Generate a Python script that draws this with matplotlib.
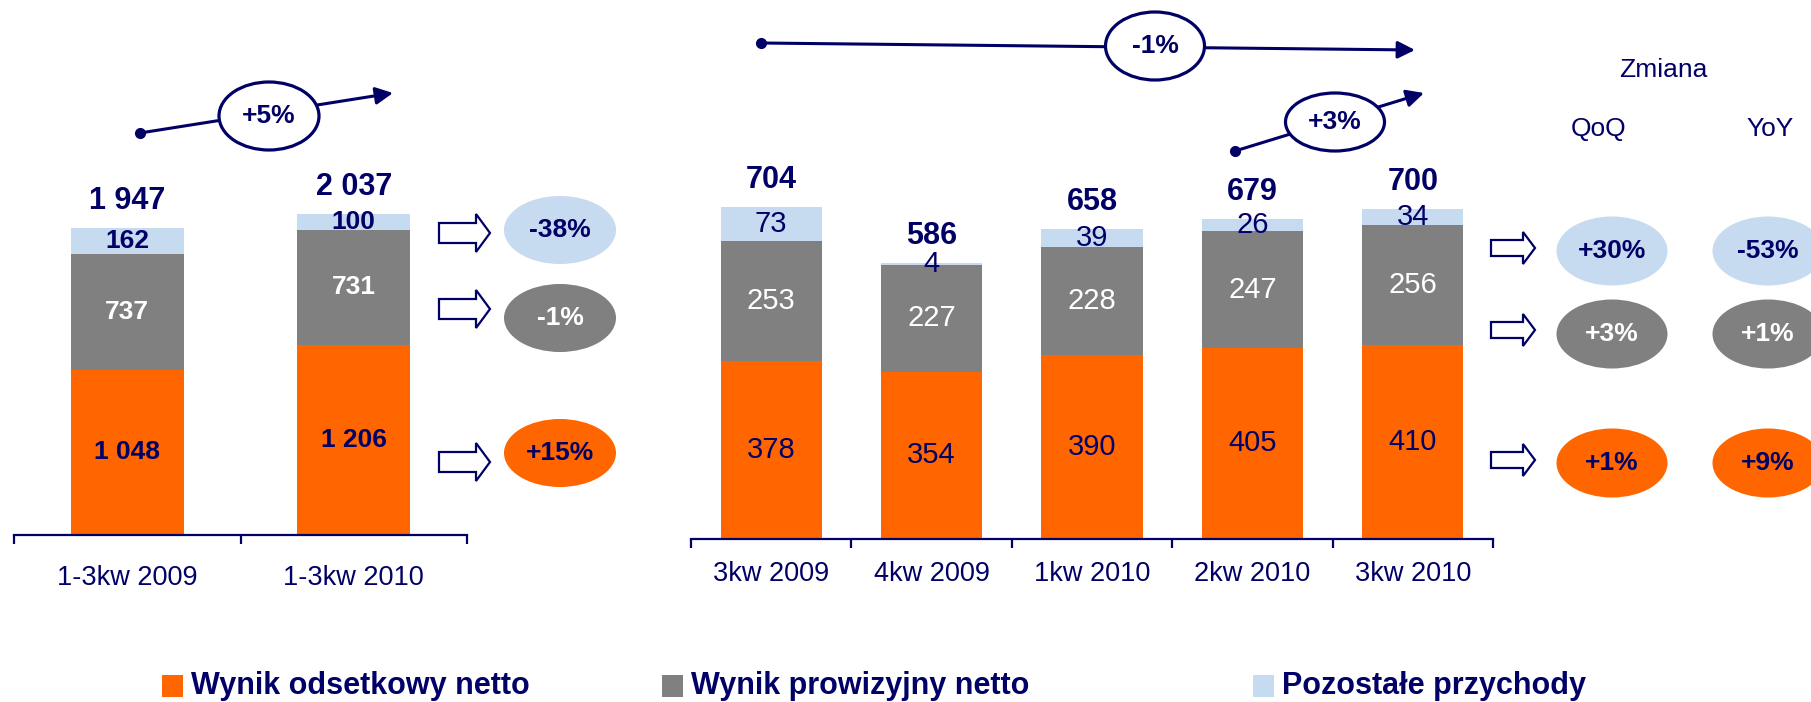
import numpy as np
import matplotlib.pyplot as plt
from matplotlib.patches import Ellipse, FancyArrow, Rectangle

W, H = 1811, 702
NAVY = '#000066'
ORANGE = '#FF6600'
GRAY = '#808080'
LIGHT = '#C6DAF0'

plt.rcParams['font.family'] = ['Liberation Sans', 'DejaVu Sans']

# dane - narastajaco
ytd_labels = ['1-3kw 2009', '1-3kw 2010']
ytd_interest = [1048, 1206]
ytd_fees = [737, 731]
ytd_other = [162, 100]
ytd_total = [1947, 2037]

# dane - kwartalne
q_labels = ['3kw 2009', '4kw 2009', '1kw 2010', '2kw 2010', '3kw 2010']
q_interest = [378, 354, 390, 405, 410]
q_fees = [253, 227, 228, 247, 256]
q_other = [73, 4, 39, 26, 34]
q_total = [704, 586, 658, 679, 700]

# zmiany (pozostale, prowizyjny, odsetkowy)
ytd_change = ['-38%', '-1%', '+15%']
qoq_change = ['+30%', '+3%', '+1%']
yoy_change = ['-53%', '+1%', '+9%']
trend_labels = ['+5%', '-1%', '+3%']
legend_labels = ['Wynik odsetkowy netto', 'Wynik prowizyjny netto', 'Pozostałe przychody']

colors = [ORANGE, GRAY, LIGHT]
text_colors = [NAVY, 'white', NAVY]


def fmt(v):
    return f"{v:,}".replace(',', ' ')


def px_rect(left, right, baseline, top):
    return [left / W, (H - baseline) / H, (right - left) / W, (baseline - top) / H]


def panel(rect, ymax, labels, segs, totals, width, inner_size, inner_weight, pad):
    ax = fig.add_axes(rect)
    x = np.arange(len(labels))
    bottom = np.zeros(len(labels))
    for vals, col, tc in zip(segs, colors, text_colors):
        vals = np.array(vals)
        ax.bar(x, vals, width, bottom=bottom, color=col, zorder=2)
        for xi, b, v in zip(x, bottom, vals):
            ax.text(xi, b + v / 2, fmt(v), ha='center', va='center', color=tc,
                    fontsize=inner_size, fontweight=inner_weight, zorder=3)
        bottom += vals
    for xi, top, t in zip(x, bottom, totals):
        ax.annotate(fmt(t), (xi, top), xytext=(0, 19.5), textcoords='offset points',
                    ha='center', va='center', fontsize=22, fontweight='bold', color=NAVY)
    ax.set_xlim(-0.5, len(labels) - 0.5)
    ax.set_ylim(0, ymax)
    for s in ['top', 'right', 'left']:
        ax.spines[s].set_visible(False)
    ax.spines['bottom'].set_color(NAVY)
    ax.spines['bottom'].set_linewidth(1.6)
    ax.set_yticks([])
    ax.set_xticks(x)
    ax.set_xticklabels(labels)
    ax.set_xticks(np.arange(-0.5, len(labels)), minor=True)
    ax.tick_params(axis='x', which='major', length=0, pad=pad, labelsize=19.5, labelcolor=NAVY)
    ax.tick_params(axis='x', which='minor', length=6.5, width=1.6, color=NAVY, direction='out')
    ax.patch.set_alpha(0)
    return ax


fig = plt.figure(figsize=(W / 100, H / 100), dpi=100)

# lewy panel: 0.1576 px na jednostke
panel(px_rect(14, 467, 535, 535 - 2400 * 0.1576), 2400, ytd_labels,
      [ytd_interest, ytd_fees, ytd_other], ytd_total, 0.5, 19, 'bold', 21.5)
# prawy panel: 0.472 px na jednostke
panel(px_rect(691, 1493, 539, 539 - 800 * 0.472), 800, q_labels,
      [q_interest, q_fees, q_other], q_total, 0.63, 21, 'normal', 16)

# warstwa z adnotacjami (wspolrzedne w pikselach)
ov = fig.add_axes([0, 0, 1, 1], zorder=5)
ov.set_xlim(0, W)
ov.set_ylim(H, 0)
ov.axis('off')
ov.patch.set_alpha(0)

# strzalki trendu z elipsami
trends = [((140, 133), (393, 93), (269, 116), 100, 68),
          ((761, 43), (1415, 50), (1155, 46), 99, 68),
          ((1235, 151), (1424, 93), (1335, 122), 99, 58)]
for (dot, tip, c, w, h), lab in zip(trends, trend_labels):
    ov.annotate('', xy=tip, xytext=dot,
                arrowprops=dict(arrowstyle='-|>', color=NAVY, lw=2.2,
                                mutation_scale=26, shrinkA=0, shrinkB=0))
    ov.plot(*dot, 'o', color=NAVY, ms=7)
    ov.add_patch(Ellipse(c, w, h, fc='white', ec=NAVY, lw=2.3, zorder=4))
    ov.text(c[0], c[1], lab, ha='center', va='center', fontsize=19,
            fontweight='bold', color=NAVY, zorder=5)

# puste strzalki blokowe
def block_arrow(x0, x1, y, body, head, hlen):
    ov.add_patch(FancyArrow(x0, y, x1 - x0, 0, width=body, head_width=head,
                            head_length=hlen, length_includes_head=True,
                            fc='white', ec=NAVY, lw=1.6))

for y in [233, 309, 462]:
    block_arrow(439, 490, y, 20, 38, 14)
for y in [248, 330, 460]:
    block_arrow(1491, 1535, y, 16, 32, 12)

# elipsy ze zmianami
def change_ellipse(cx, cy, w, h, col, tc, lab):
    ov.add_patch(Ellipse((cx, cy), w, h, fc=col, ec='none', zorder=3))
    ov.text(cx, cy, lab, ha='center', va='center', fontsize=19,
            fontweight='bold', color=tc, zorder=5)

for cy, col, tc, lab in zip([230, 318, 453], colors[::-1], text_colors[::-1], ytd_change):
    change_ellipse(560, cy, 112, 68, col, tc, lab)
for cy, col, tc, lab in zip([251, 334, 463], colors[::-1], text_colors[::-1], qoq_change):
    change_ellipse(1612, cy, 111, 69, col, tc, lab)
for cy, col, tc, lab in zip([251, 334, 463], colors[::-1], text_colors[::-1], yoy_change):
    change_ellipse(1768, cy, 111, 69, col, tc, lab)

ov.text(1663, 70, 'Zmiana', ha='center', va='center', fontsize=19, color=NAVY)
ov.text(1599, 129, 'QoQ', ha='center', va='center', fontsize=19, color=NAVY)
ov.text(1770, 129, 'YoY', ha='center', va='center', fontsize=19, color=NAVY)

# legenda
for x0, col, lab in zip([162, 662, 1253], colors, legend_labels):
    ov.add_patch(Rectangle((x0, 675), 21, 22, fc=col, ec='none'))
    ov.text(x0 + 29, 686, lab, ha='left', va='center', fontsize=22,
            fontweight='bold', color=NAVY)

fig.savefig('out.png', dpi=100)
